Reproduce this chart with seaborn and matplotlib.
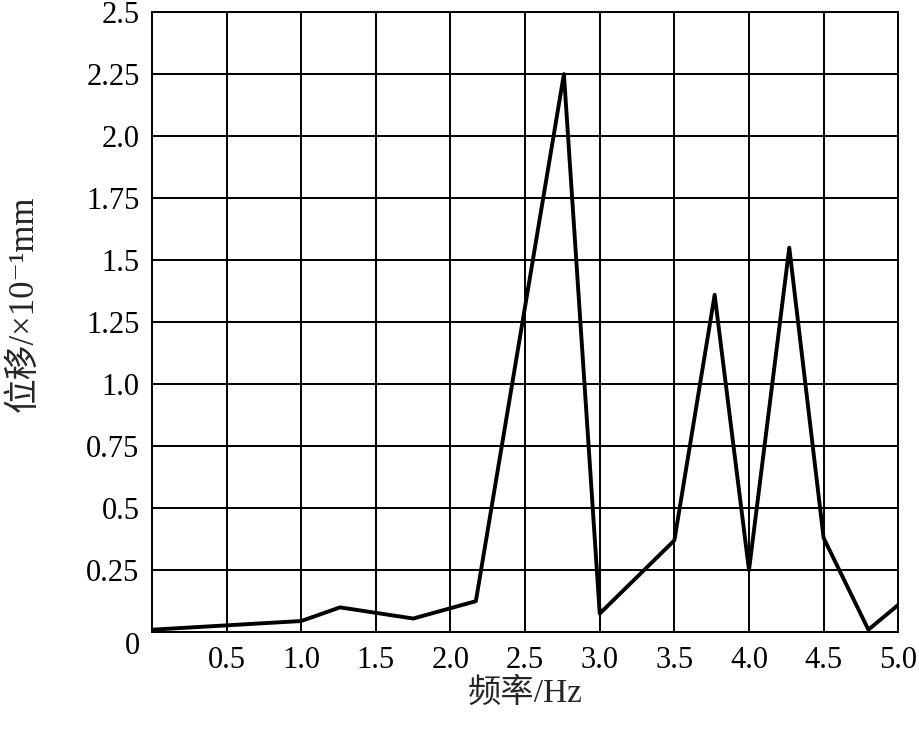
import matplotlib
matplotlib.use("Agg")
import matplotlib.pyplot as plt
import seaborn as sns
import pandas as pd

# %% Data
freq = [0.0, 1.0, 1.26, 1.75, 2.17, 2.76, 3.0, 3.5, 3.77, 4.0, 4.27, 4.5, 4.8, 5.0]
disp = [0.01, 0.045, 0.1, 0.055, 0.125, 2.25, 0.075, 0.37, 1.36, 0.25, 1.55, 0.38, 0.01, 0.11]

xticks = [0.5, 1.0, 1.5, 2.0, 2.5, 3.0, 3.5, 4.0, 4.5, 5.0]
xtick_labels = ['0.5', '1.0', '1.5', '2.0', '2.5', '3.0', '3.5', '4.0', '4.5', '5.0']
yticks = [0, 0.25, 0.5, 0.75, 1.0, 1.25, 1.5, 1.75, 2.0, 2.25, 2.5]
ytick_labels = ['0', '0.25', '0.5', '0.75', '1.0', '1.25', '1.5', '1.75', '2.0', '2.25', '2.5']

df = pd.DataFrame({'freq': freq, 'disp': disp})

# %% Plot
sns.set_style("white")
plt.rcParams['font.family'] = ['Liberation Serif', 'DejaVu Serif', 'Noto Sans CJK SC']

fig = plt.figure(figsize=(9.19, 7.30), dpi=100)
ax = fig.add_axes([0.1654, 0.134, 0.812, 0.8495])

sns.lineplot(data=df, x='freq', y='disp', ax=ax, color='black', linewidth=2.8,
             sort=False, zorder=5)

ax.set_xlim(0, 5)
ax.set_ylim(0, 2.5)
ax.set_xticks(xticks)
ax.set_xticklabels(xtick_labels)
ax.set_yticks(yticks)
ax.set_yticklabels(ytick_labels)
ax.tick_params(axis='both', length=0, labelsize=22, colors='black')
ax.tick_params(axis='x', pad=10)
ax.tick_params(axis='y', pad=9)

# the "0" sits below the origin in the reference
ax.get_yticklabels()[0].set_va('top')

ax.grid(True, color='black', linewidth=1.4)
for s in ax.spines.values():
    s.set_color('black')
    s.set_linewidth(1.4)

ax.set_xlabel('频率/Hz', fontsize=24, labelpad=2)
ax.set_ylabel('位移/×10⁻¹mm', fontsize=25, va='center')
ax.yaxis.set_label_coords(-0.171, 0.53)

fig.savefig("out.png", dpi=100)
